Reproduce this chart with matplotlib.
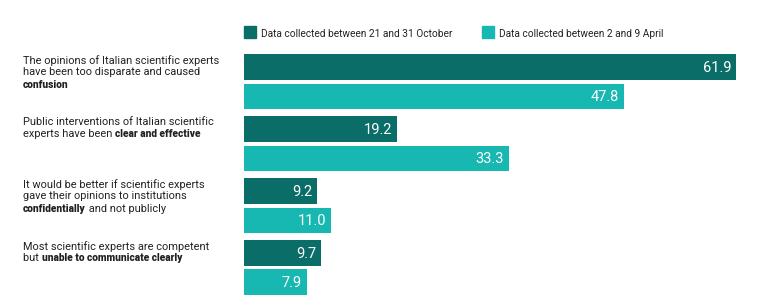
import matplotlib.pyplot as plt
from matplotlib.transforms import blended_transform_factory

plt.rcParams['font.family'] = ['Roboto', 'DejaVu Sans']

# each label: list of lines, each line a list of (text, bold) segments
labels = [
    [[("The opinions of Italian scientific experts", False)],
     [("have been too disparate and caused", False)],
     [("confusion", True)]],
    [[("Public interventions of Italian scientific", False)],
     [("experts have been ", False), ("clear and effective", True)]],
    [[("It would be better if scientific experts", False)],
     [("gave their opinions to institutions", False)],
     [("confidentially", True), (" and not publicly", False)]],
    [[("Most scientific experts are competent", False)],
     [("but ", False), ("unable to communicate clearly", True)]],
]
october = [61.9, 19.2, 9.2, 9.7]
april = [47.8, 33.3, 11.0, 7.9]
series_names = ["Data collected between 21 and 31 October",
                "Data collected between 2 and 9 April"]

dark = "#0b6d68"
light = "#17b7b2"

W, H = 767, 308
fig = plt.figure(figsize=(W / 100, H / 100), dpi=100)
ax = fig.add_axes([244 / W, 8 / H, 501 / W, 250 / H])
ax.set_xlim(0, 63)
ax.set_ylim(7.9, -0.576)
ax.axis("off")

gap = 2.1
bh = 0.87
for i in range(len(labels)):
    y0 = i * gap
    for y, v, c in [(y0, october[i], dark), (y0 + 1, april[i], light)]:
        ax.barh(y, v, height=bh, color=c)
        ax.text(v - 0.6, y + 0.03, f"{v:.1f}", color="white", fontsize=10.5,
                ha="right", va="center")

# category labels, top-aligned with dark bar
tr = blended_transform_factory(ax.transAxes, ax.transData)
x_lab = (23 - 244) / 501
line_h = 12.3 / 29.5
for i, lines in enumerate(labels):
    top = i * gap - bh / 2 + 0.03
    for k, segs in enumerate(lines):
        prev = None
        for text, bold in segs:
            style = dict(fontsize=7.3, fontweight="heavy") if bold else dict(fontsize=7.9)
            if prev is None:
                prev = ax.text(x_lab, top + k * line_h, text, transform=tr,
                               color="#222222", ha="left", va="top",
                               clip_on=False, **style)
            else:
                prev = ax.annotate(text, xy=(1, 0), xycoords=prev,
                                   color="#222222", ha="left", va="bottom",
                                   annotation_clip=False, **style)

# legend
for x, name, c in [(244, series_names[0], dark), (482, series_names[1], light)]:
    fig.patches.append(plt.Rectangle((x / W, 1 - 38 / H), 12 / W, 12 / H,
                                     transform=fig.transFigure, color=c))
    fig.text((x + 17) / W, 1 - 34 / H, name, fontsize=7.3, color="#222222",
             ha="left", va="center")

fig.savefig("out.png", dpi=100)
